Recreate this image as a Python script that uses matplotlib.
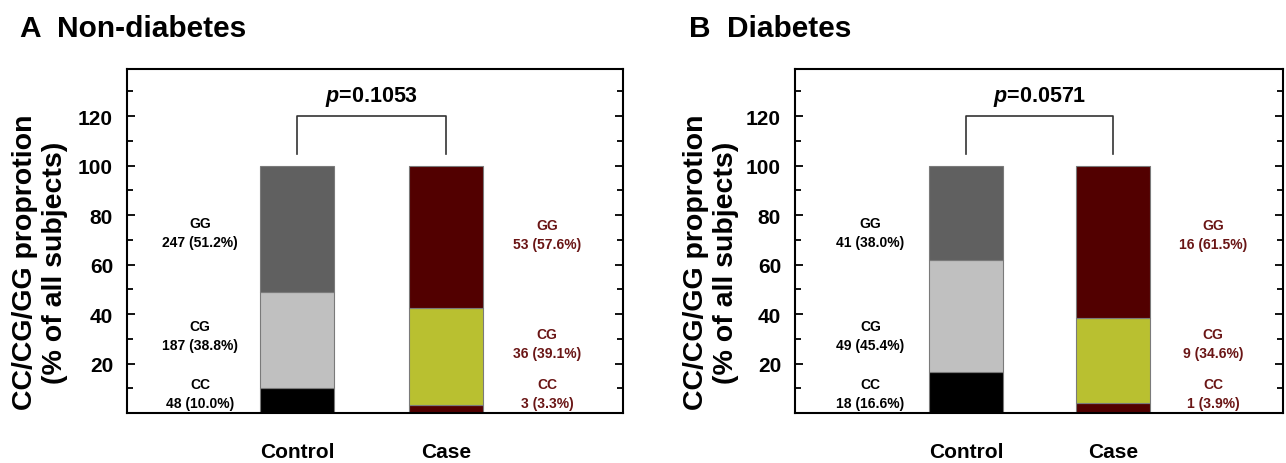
import matplotlib
matplotlib.use("Agg")
import matplotlib.pyplot as plt

plt.rcParams['font.family'] = ['Liberation Sans', 'DejaVu Sans']
plt.rcParams['font.weight'] = 'bold'
plt.rcParams['mathtext.fontset'] = 'custom'
plt.rcParams['mathtext.it'] = 'Liberation Sans:italic:bold'
plt.rcParams['mathtext.rm'] = 'Liberation Sans:bold'

# data
groups = ['Control', 'Case']
genotypes = ['CC', 'CG', 'GG']
panel_titles = ['A  Non-diabetes', 'B  Diabetes']
p_values = ['0.1053', '0.0571']

# percentages [CC, CG, GG]
nd_control = [10.0, 38.8, 51.2]
nd_case = [3.3, 39.1, 57.6]
d_control = [16.6, 45.4, 38.0]
d_case = [3.9, 34.6, 61.5]

# counts [CC, CG, GG]
nd_control_n = [48, 187, 247]
nd_case_n = [3, 36, 53]
d_control_n = [18, 49, 41]
d_case_n = [1, 9, 16]

control_colors = ['#000000', '#c0c0c0', '#606060']
case_colors = ['#520000', '#b9c030', '#520000']
case_text = '#6a1515'

# label heights (left column, right column)
left_y = [8, 31.5, 73]
right_y = [8, 28, 72]

fig = plt.figure(figsize=(12.86, 4.64), dpi=100)

panels = [
    dict(rect=[127/1286, 50/464, 496/1286, 344/464], xlim=(-0.141, 3.188),
         ctrl=nd_control, case=nd_case, ctrl_n=nd_control_n, case_n=nd_case_n,
         title_x=20/1286, ylab_x=-0.118),
    dict(rect=[795/1286, 50/464, 488/1286, 344/464], xlim=(-0.163, 3.156),
         ctrl=d_control, case=d_case, ctrl_n=d_control_n, case_n=d_case_n,
         title_x=689/1286, ylab_x=-0.115),
]

for i, pn in enumerate(panels):
    ax = fig.add_axes(pn['rect'])
    x = [1, 2]
    for vals, cols, xi in [(pn['ctrl'], control_colors, x[0]),
                           (pn['case'], case_colors, x[1])]:
        bottom = 0
        for v, c in zip(vals, cols):
            ax.bar(xi, v, bottom=bottom, width=0.5, color=c,
                   edgecolor='#7a7a7a', linewidth=0.8)
            bottom += v

    # annotations
    for k, g in enumerate(genotypes):
        ax.text(0.35, left_y[k], '%s\n%d (%.1f%%)' % (g, pn['ctrl_n'][k], pn['ctrl'][k]),
                ha='center', va='center', fontsize=10, color='black', linespacing=1.45)
        ax.text(2.68, right_y[k], '%s\n%d (%.1f%%)' % (g, pn['case_n'][k], pn['case'][k]),
                ha='center', va='center', fontsize=10, color=case_text, linespacing=1.45)

    # bracket
    ax.plot([1, 1, 2, 2], [104.6, 120, 120, 104.6], color='#333333', lw=1.2)
    ax.text(1.5, 128, r'$p$=' + p_values[i], ha='center', va='center', fontsize=15.5)

    ax.set_xlim(*pn['xlim'])
    ax.set_ylim(0, 139)
    ax.set_xticks(x)
    ax.set_xticklabels(groups, fontsize=15, fontweight='bold')
    ax.tick_params(axis='x', length=0, pad=21)
    ax.set_yticks([20, 40, 60, 80, 100, 120])
    ax.set_yticks(range(10, 139, 10), minor=True)
    ax.tick_params(axis='y', which='both', direction='in', right=True,
                   labelsize=15, pad=10, width=1.3)
    ax.tick_params(axis='y', which='major', length=6)
    ax.tick_params(axis='y', which='minor', length=4)
    for s in ax.spines.values():
        s.set_linewidth(1.5)
    ax.set_ylabel('CC/CG/GG proprotion\n(% of all subjects)', fontsize=20.5,
                  fontweight='bold')
    ax.yaxis.set_label_coords(pn['ylab_x'], 0.44)

    fig.text(pn['title_x'], 1 - 37/464, panel_titles[i], fontsize=21.5,
             fontweight='bold', va='baseline', ha='left')

fig.savefig('out.png', dpi=100)
